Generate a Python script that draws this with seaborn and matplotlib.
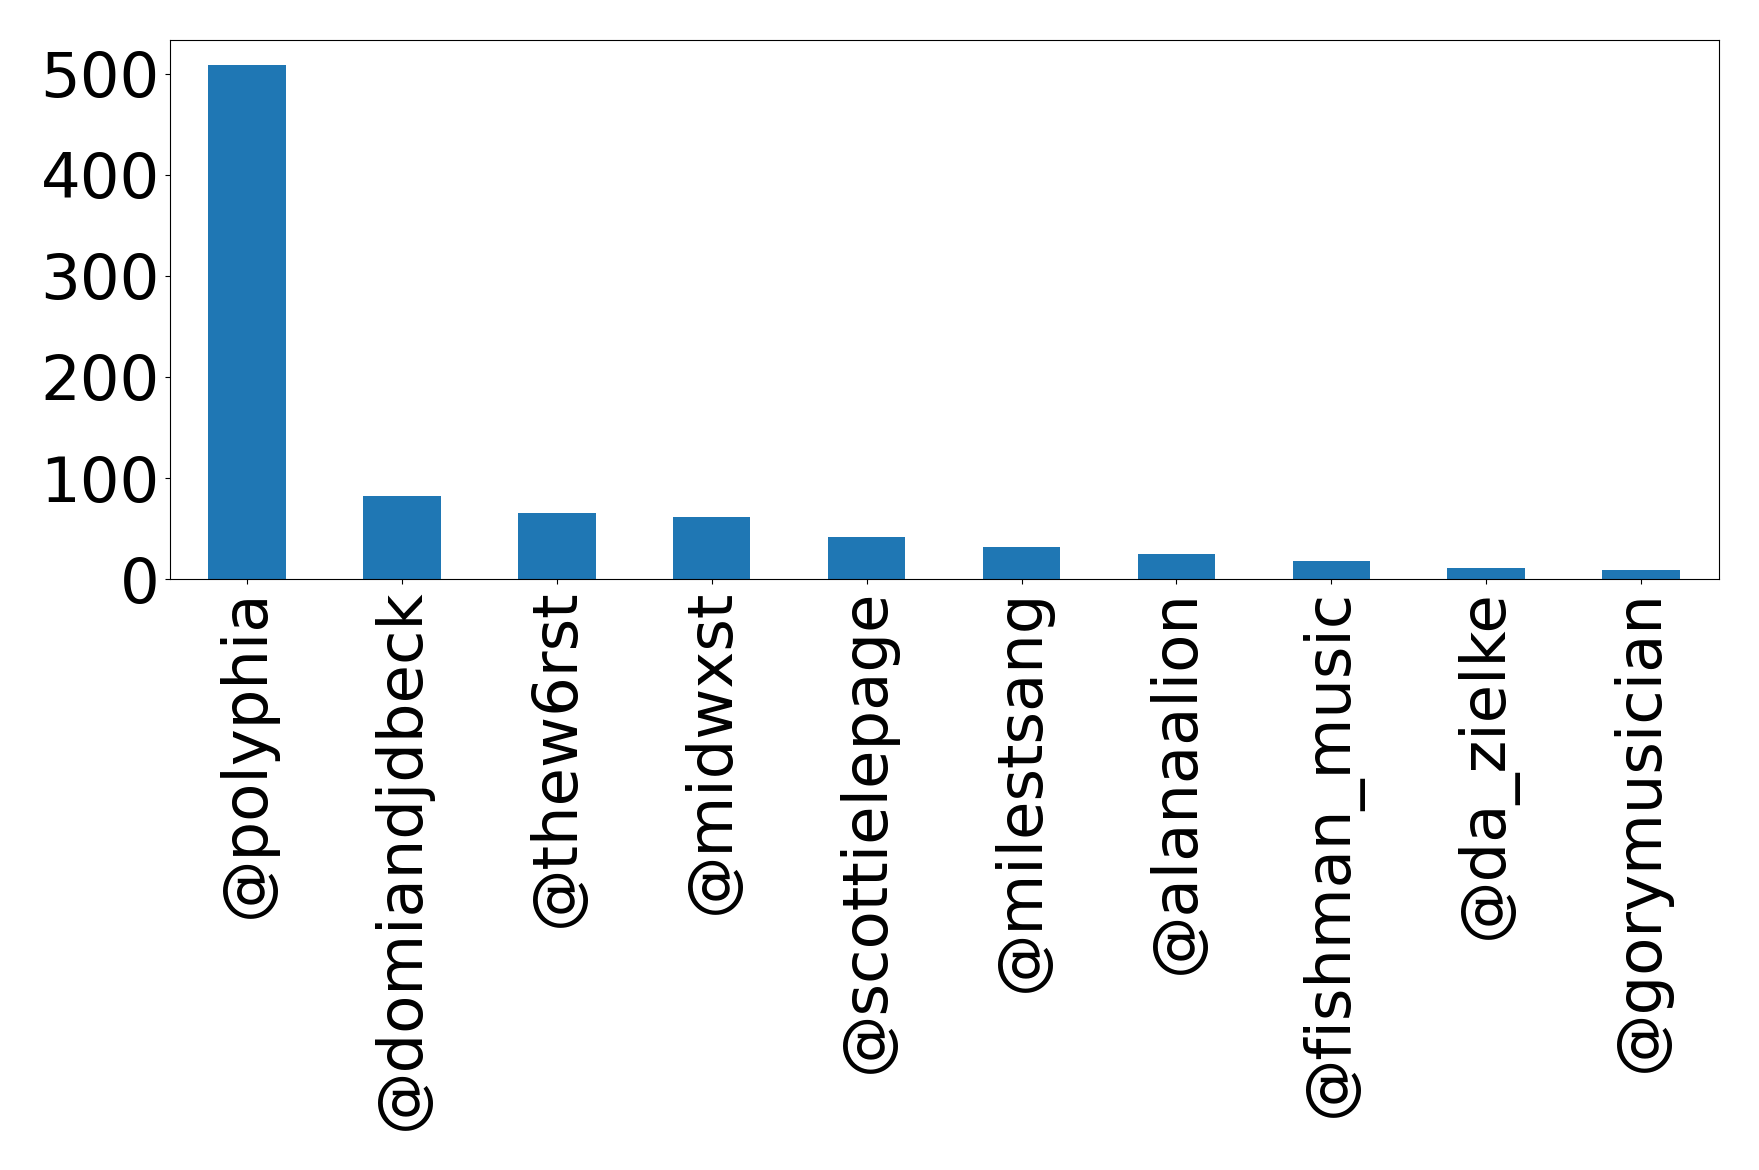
import seaborn as sns
import matplotlib
matplotlib.use("Agg")
import matplotlib.pyplot as plt
from matplotlib.ticker import MultipleLocator
import pandas as pd

accounts = ["@polyphia", "@domiandjdbeck", "@thew6rst", "@midwxst", "@scottielepage",
            "@milestsang", "@alanaalion", "@fishman_music", "@da_zielke", "@gorymusician"]
counts = [508, 82, 65, 61, 42, 32, 25, 18, 11, 9]

BAR_COLOR = "#1f77b4"
FONT_SIZE = 45

df = pd.DataFrame({"account": accounts, "count": counts})

fig, ax = plt.subplots(figsize=(17.59, 11.70), dpi=100)
sns.barplot(data=df, x="account", y="count", color=BAR_COLOR, saturation=1,
            width=0.5, ax=ax)
ax.set_xlabel("")
ax.set_ylabel("")
ax.set_xlim(-0.5, len(accounts) - 0.5)
ax.yaxis.set_major_locator(MultipleLocator(100))
ax.tick_params(axis="x", labelrotation=90, labelsize=FONT_SIZE)
ax.tick_params(axis="y", labelsize=FONT_SIZE)
plt.subplots_adjust(left=0.0964, right=0.977, top=0.966, bottom=0.505)
plt.savefig("out.png", dpi=100)
